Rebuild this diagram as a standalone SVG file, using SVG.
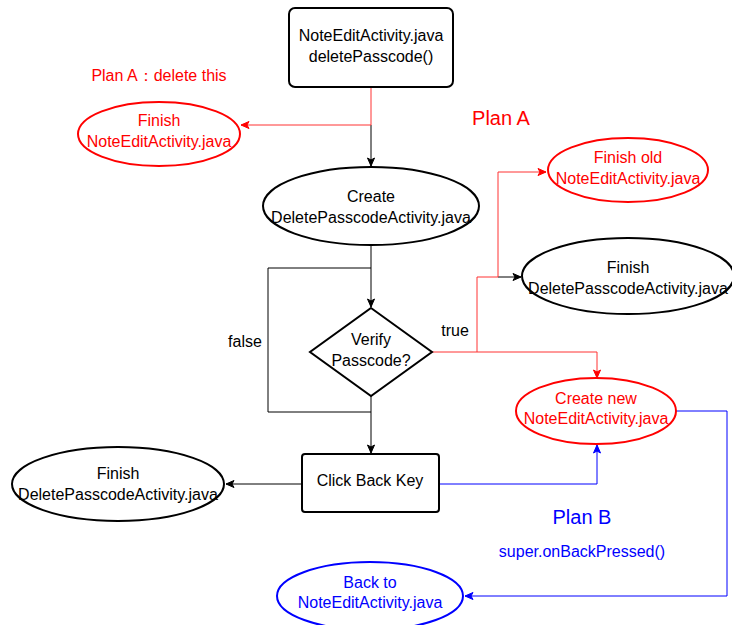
<svg xmlns="http://www.w3.org/2000/svg" width="732" height="625" viewBox="0 0 732 625">
<defs>
<marker id="ak" markerWidth="10" markerHeight="10" refX="9" refY="5" orient="auto" markerUnits="userSpaceOnUse"><path d="M1,1.5 L9,5 L1,8.5 L3,5 Z" fill="#000" stroke="#000" stroke-width="1"/></marker>
<marker id="ar" markerWidth="10" markerHeight="10" refX="9" refY="5" orient="auto" markerUnits="userSpaceOnUse"><path d="M1,1.5 L9,5 L1,8.5 L3,5 Z" fill="#FF0000" stroke="#FF0000" stroke-width="1"/></marker>
<marker id="ab" markerWidth="10" markerHeight="10" refX="9" refY="5" orient="auto" markerUnits="userSpaceOnUse"><path d="M1,1.5 L9,5 L1,8.5 L3,5 Z" fill="#0000FF" stroke="#0000FF" stroke-width="1"/></marker>
</defs>
<style>
text{font-family:"Liberation Sans",Arial,sans-serif;font-size:16px;text-anchor:middle;fill:#000}
.r{fill:#FF0000}.b{fill:#0000FF}
.big{font-size:20px}
.nk{fill:#fff;stroke:#000;stroke-width:2}
.nr{fill:#fff;stroke:#FF0000;stroke-width:2}
.nb{fill:#fff;stroke:#0000FF;stroke-width:2}
.ck{fill:none;stroke:#000;stroke-width:1}
.cr{fill:none;stroke:#FF3333;stroke-width:1}
.cb{fill:none;stroke:#0000FF;stroke-width:1}
</style>
<rect width="732" height="625" fill="#fff"/>
<g id="connectors">
<path class="ck" d="M371,125 L371,166" marker-end="url(#ak)"/>
<path class="cr" d="M371,87 L371,125 L241,125" marker-end="url(#ar)"/>
<path class="ck" d="M371,245 L371,307" marker-end="url(#ak)"/>
<path class="ck" d="M371,396 L371,412 L268,412 L268,268 L371,268"/>
<path class="ck" d="M371,412 L371,453" marker-end="url(#ak)"/>
<path class="ck" d="M302,484 L226,484" marker-end="url(#ak)"/>
<path class="ck" d="M498,277 L521,277" marker-end="url(#ak)"/>
<path class="cr" d="M432,352 L477,352 L477,277 L498,277 L498,172 L546,172" marker-end="url(#ar)"/>
<path class="cr" d="M477,352 L597,352 L597,378" marker-end="url(#ar)"/>
<path class="cb" d="M439,484 L597,484 L597,445" marker-end="url(#ab)"/>
<path class="cb" d="M676,411 L727,411 L727,596 L465,596" marker-end="url(#ab)"/>
</g>
<g id="labels">
<text class="r" x="159" y="81">Plan A：delete this</text>
<text class="r big" x="501" y="125">Plan A</text>
<text x="245" y="347">false</text>
<text x="455" y="336">true</text>
<text class="b big" x="582" y="524">Plan B</text>
<text class="b" x="582" y="557">super.onBackPressed()</text>
</g>
<g id="n1"><rect class="nk" x="289" y="8" width="164" height="79" rx="6"/><text x="371" y="41">NoteEditActivity.java</text><text x="371" y="62">deletePasscode()</text></g>
<g id="n2"><ellipse class="nr" cx="159" cy="134" rx="81" ry="32"/><text class="r" x="159" y="126">Finish</text><text class="r" x="159" y="147">NoteEditActivity.java</text></g>
<g id="n3"><ellipse class="nk" cx="371" cy="206" rx="108" ry="39"/><text x="371" y="202">Create</text><text x="371" y="223">DeletePasscodeActivity.java</text></g>
<g id="n4"><path class="nk" d="M371,308 L432,352 L371,396 L310,352 Z"/><text x="371" y="345">Verify</text><text x="371" y="366">Passcode?</text></g>
<g id="n5"><ellipse class="nr" cx="628" cy="170" rx="80" ry="32"/><text class="r" x="628" y="163">Finish old</text><text class="r" x="628" y="184">NoteEditActivity.java</text></g>
<g id="n6"><ellipse class="nk" cx="628" cy="276" rx="106" ry="38"/><text x="628" y="273">Finish</text><text x="628" y="294">DeletePasscodeActivity.java</text></g>
<g id="n7"><ellipse class="nr" cx="596" cy="411" rx="80" ry="33"/><text class="r" x="596" y="404">Create new</text><text class="r" x="596" y="424">NoteEditActivity.java</text></g>
<g id="n8"><rect class="nk" x="302" y="454" width="137" height="58" rx="3"/><text x="370" y="486">Click Back Key</text></g>
<g id="n9"><ellipse class="nk" cx="118" cy="484" rx="106" ry="37"/><text x="118" y="479">Finish</text><text x="118" y="500">DeletePasscodeActivity.java</text></g>
<g id="n10"><ellipse class="nb" cx="370" cy="596" rx="93" ry="34"/><text class="b" x="370" y="588">Back to</text><text class="b" x="370" y="608">NoteEditActivity.java</text></g>
</svg>
